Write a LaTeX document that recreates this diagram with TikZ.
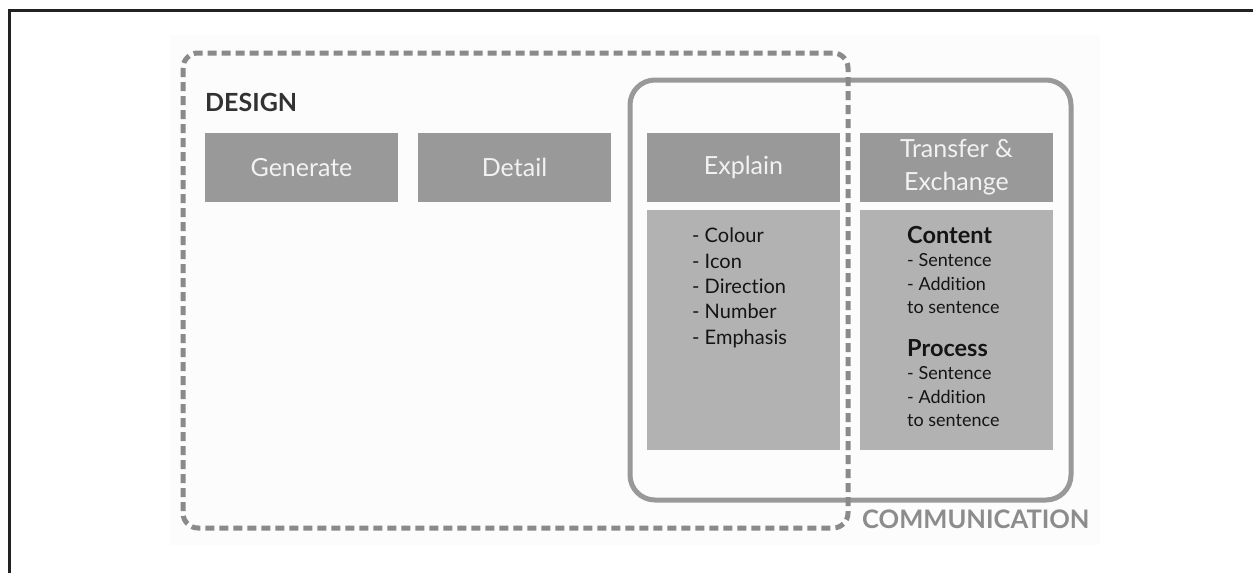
\documentclass[tikz,border=0pt]{standalone}
\usepackage{fontspec}
\setmainfont{Lato}[Ligatures=NoCommon]
\definecolor{framegray}{RGB}{34,34,34}
\definecolor{bgfaint}{RGB}{252,252,252}
\definecolor{dashgray}{RGB}{138,138,138}
\definecolor{solidgray}{RGB}{153,153,153}
\definecolor{boxdark}{RGB}{153,153,153}
\definecolor{boxlight}{RGB}{178,178,178}
\definecolor{boxtext}{RGB}{242,242,242}
\definecolor{designtext}{RGB}{50,50,50}
\definecolor{commtext}{RGB}{140,140,140}
\definecolor{listtext}{RGB}{20,20,20}
\begin{document}
\begin{tikzpicture}[x=1pt,y=-1pt,
  topbox/.style={fill=boxdark,draw=none,minimum width=193pt,minimum height=69pt,inner sep=0pt,
    text=boxtext,font=\fontsize{25}{33}\selectfont,align=center},
  lowbox/.style={fill=boxlight,draw=none,minimum width=193pt,minimum height=240pt,inner sep=0pt},
  listtxt/.style={inner sep=0pt,align=left,text=listtext},
  dashframe/.style={draw=dashgray,line width=5pt,dash pattern=on 9pt off 5pt,rounded corners=15pt},
  solidframe/.style={draw=solidgray,line width=5pt,rounded corners=25pt}]
\useasboundingbox (0,0) rectangle (1253,573);
% page frame (top and left only)
\fill[bgfaint] (170,35) rectangle (1100,545);
\draw[framegray,line width=3pt] (9,573) -- (9,10) -- (1253,10);
% communication frame
\draw[solidframe] (630,80) rectangle (1071,500);
% boxes
\node[topbox] (gen) at (301.5,167.5) {Generate};
\node[topbox] (det) at (514.5,167.5) {Detail};
\node[topbox] (exp) at (743.5,167.5) {Explain};
\node[topbox] (tra) at (956.5,167.5) {\raisebox{-1pt}{\parbox{193pt}{\centering Transfer \&\\Exchange}}};
\node[lowbox] (expd) at (743.5,330) {};
\node[lowbox] (trad) at (956.5,330) {};
% texts
\node[anchor=base west,inner sep=0pt,text=designtext,font=\fontsize{25}{28}\selectfont\bfseries] (design) at (205,111) {DESIGN};
\node[anchor=base west,inner sep=0pt,text=commtext,font=\fontsize{25.5}{28}\selectfont\bfseries] (comm) at (862,528) {COMMUNICATION};
\node[listtxt,anchor=north west,font=\fontsize{20}{25.3}\selectfont] (explist) at (692,228)
  {- Colour\\- Icon\\- Direction\\- Number\\- Emphasis};
\node[listtxt,anchor=north west,font=\fontsize{18}{23.5}\selectfont] (content) at (907,226)
  {{\fontsize{23.5}{23.5}\selectfont\bfseries Content}\\- Sentence\\- Addition\\to sentence};
\node[listtxt,anchor=north west,font=\fontsize{18}{23.5}\selectfont] (process) at (907,339)
  {{\fontsize{23.5}{23.5}\selectfont\bfseries Process}\\- Sentence\\- Addition\\to sentence};
% design frame
\draw[dashframe] (183,53) rectangle (848,528);
\end{tikzpicture}
\end{document}
